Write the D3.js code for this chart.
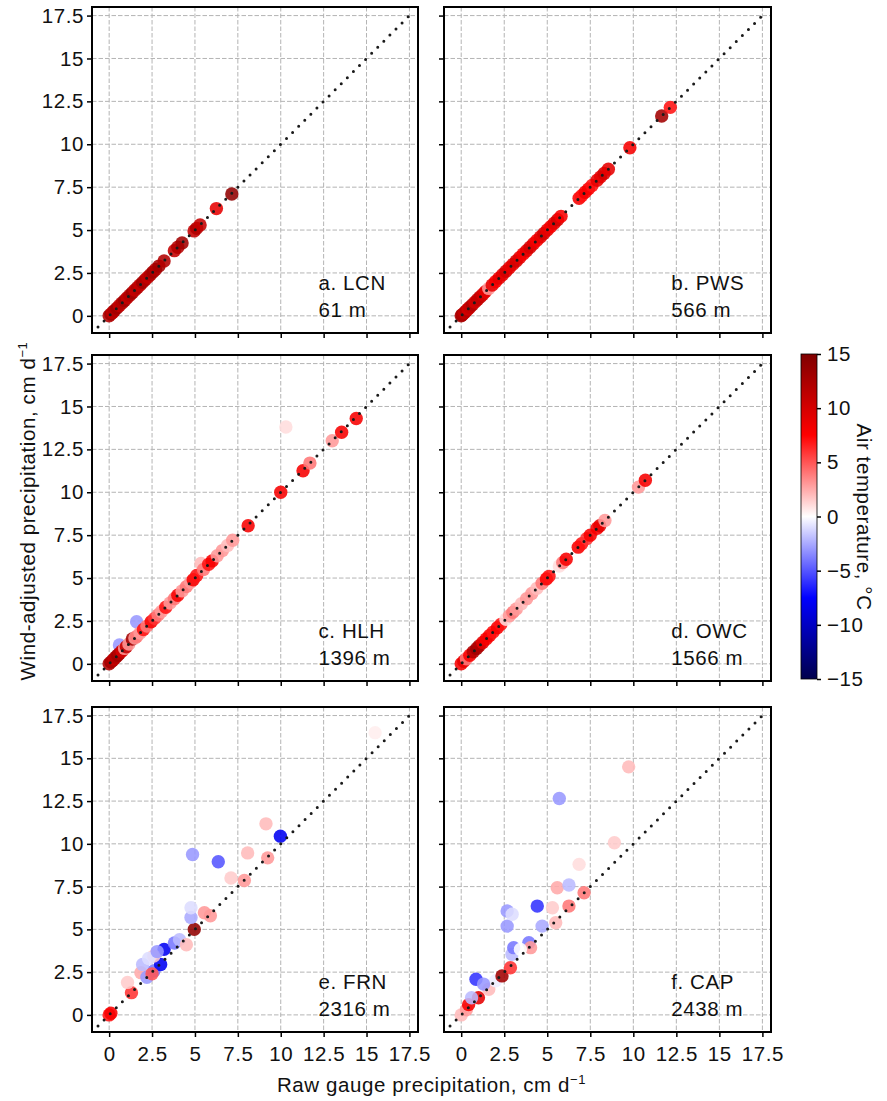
<!DOCTYPE html>
<html><head><meta charset="utf-8">
<script src="https://cdn.jsdelivr.net/npm/d3@7"></script>
<style>body{margin:0;background:#fff} text{font-family:"Liberation Sans",Arial,sans-serif;fill:#111;letter-spacing:0.6px}</style>
</head><body><svg id="c" width="887" height="1101"></svg>
<script>
// ---------- data ----------
const axisTicks=[0,2.5,5,7.5,10,12.5,15,17.5];
const cbarTicks=[-15,-10,-5,0,5,10,15];
const stations=["a. LCN","b. PWS","c. HLH","d. OWC","e. FRN","f. CAP"];
const elevations=["61 m","566 m","1396 m","1566 m","2316 m","2438 m"];

const lcnRaw=[0,0.1,0.2,0.3,0.45,0.6,0.75,0.9,1.05,1.2,1.35,1.5,1.65,1.8,1.95,2.1,2.25,2.4,2.55,2.7,2.9,3.2,3.8,4.0,4.25,4.95,5.1,5.3,6.25,7.15];
const lcnAdj=[0,0.1,0.2,0.3,0.45,0.6,0.75,0.9,1.05,1.2,1.35,1.5,1.65,1.8,1.95,2.1,2.25,2.4,2.55,2.7,2.9,3.2,3.8,4.0,4.25,4.95,5.1,5.3,6.25,7.1];
const lcnTemp=[12,13,11,12,13,11,12,13,11,12,13,11,12,11,13,12,11,12,13,12,13,12,11,12,13,11,12,11,9,14];

const pwsRaw=[0,0.05,0.1,0.2,0.3,0.4,0.5,0.65,0.8,0.95,1.1,1.25,1.4,1.6,1.8,2.0,2.2,2.4,2.6,2.8,3.0,3.2,3.4,3.6,3.8,4.0,4.2,4.4,4.6,4.8,5.0,5.2,5.4,5.6,5.8,6.85,7.0,7.2,7.4,7.6,7.9,8.1,8.3,8.55,9.8,11.65,12.15];
const pwsAdj=[0,0.05,0.1,0.2,0.3,0.4,0.5,0.65,0.8,0.95,1.1,1.25,1.4,1.6,1.8,2.0,2.2,2.4,2.6,2.8,3.0,3.2,3.4,3.6,3.8,4.0,4.2,4.4,4.6,4.8,5.0,5.2,5.4,5.6,5.8,6.85,7.0,7.2,7.4,7.6,7.9,8.1,8.3,8.55,9.8,11.65,12.15];
const pwsTemp=[12,13,12,11,12,10,11,12,10,11,11,10,9,3,9,8,9,9,10,9,9,10,9,8,9,10,9,8,9,10,9,8,9,10,8,8,7,8,8,7,9,9,10,9,8,13,7];

const hlhRaw=[0.6,1.6,0,0.1,0.2,0.3,0.4,0.5,0.6,0.75,0.9,1.0,1.15,1.35,1.5,1.6,1.8,2.0,2.2,2.45,2.65,2.85,3.05,3.3,3.55,3.8,4.0,4.25,4.5,4.75,4.9,5.1,5.35,5.5,5.8,6.0,6.3,6.6,6.9,7.2,8.1,10.0,11.3,11.7,13.0,13.55,14.4,10.3];
const hlhAdj=[1.1,2.45,0,0.1,0.2,0.3,0.4,0.5,0.6,0.75,0.9,1.0,1.15,1.45,1.5,1.6,1.8,2.0,2.2,2.45,2.65,2.85,3.05,3.3,3.55,3.8,4.0,4.25,4.5,4.75,4.9,5.15,5.85,5.5,5.8,6.0,6.3,6.6,6.9,7.2,8.05,10.0,11.25,11.7,13.0,13.5,14.3,13.8];
const hlhTemp=[-3,-3,12,13,12,11,12,13,12,10,3,11,3,13,3,4,3,7,4,8,6,4,3,7,3,4,8,3,4,3,8,7,2,4,7,8,3,3,2,3,8,8,8,4,3,8,8,1];

const owcRaw=[0,0.15,0.3,0.5,0.7,0.9,1.05,1.25,1.45,1.65,1.85,2.1,2.3,2.6,2.8,3.0,3.2,3.5,3.8,4.1,4.4,4.7,4.95,5.1,5.7,5.9,6.1,6.8,7.0,7.3,7.5,7.9,8.05,8.35,10.3,10.7];
const owcAdj=[0,0.15,0.3,0.5,0.7,0.9,1.05,1.25,1.45,1.65,1.85,2.1,2.3,2.6,2.8,3.0,3.2,3.5,3.8,4.1,4.4,4.7,4.95,5.1,5.7,5.9,6.1,6.8,7.0,7.3,7.5,7.9,8.05,8.35,10.3,10.7];
const owcTemp=[8,9,4,8,12,13,12,9,8,8,7,8,7,1,3,4,3,2,3,3,2,4,8,7,1,4,8,8,7,6,8,8,9,3,3,8];

const frnRaw=[0,0.1,1.3,1.07,1.85,2.6,3.0,3.2,1.95,2.6,2.3,3.8,4.1,4.5,4.96,4.77,4.77,5.55,5.9,4.86,6.36,7.1,7.88,8.07,9.24,9.14,9.98,15.5,2.2,2.5,2.8];
const frnAdj=[0,0.1,1.3,1.9,2.47,2.57,2.95,3.83,2.95,3.44,3.3,4.2,4.4,4.1,5.0,5.7,6.26,5.97,5.8,9.38,8.95,8.0,7.86,9.47,9.18,11.17,10.45,16.5,2.2,2.4,3.7];
const frnTemp=[7,8,6,1.5,2.5,-4,-8,-8,-2,1.5,-1,-4,-2,2,14,-2.5,-1,3,3,-3,-5,1.5,3,2,3,2,-8,0.5,-3,5,-3];

const capRaw=[0,0.3,0.43,1.0,0.86,1.6,2.0,2.37,2.86,2.95,3.05,3.93,4.03,3.44,2.67,2.67,2.96,4.42,4.7,5.49,5.3,6.26,7.14,5.58,6.26,6.85,8.9,5.7,9.73,1.3,0.6];
const capAdj=[0,0.3,0.6,1.0,2.08,1.5,2.0,2.28,2.76,3.54,3.93,4.22,3.93,3.83,5.19,6.07,5.88,6.36,5.19,5.39,6.26,6.36,7.14,7.43,7.59,8.8,10.06,12.65,14.5,1.8,1.0];
const capTemp=[2,3,8,9,-6,2,-0.5,13,6,-2,-4,-4,3,0,-3,-3,-1,-6,-2.5,2,1.5,4,4,2.5,-2,1,1.5,-3,2,-3,-2];

// ---------- drawing ----------
const series=[[lcnRaw,lcnAdj,lcnTemp],[pwsRaw,pwsAdj,pwsTemp],[hlhRaw,hlhAdj,hlhTemp],
              [owcRaw,owcAdj,owcTemp],[frnRaw,frnAdj,frnTemp],[capRaw,capAdj,capTemp]];
const svg=d3.select("#c");
const cols=[[92,418],[444,771]], rows=[[7,333],[355,681],[707,1032]];
const dom=[-1,18];
const color=d3.scaleLinear().domain([-15,-7.5,0,7.5,15])
  .range(["#00004c","#0000ff","#ffffff","#ff0000","#800000"]);
const FS=20.5;
const FF="Liberation Sans, Arial, sans-serif";

series.forEach((s,i)=>{
  const c=i%2, r=Math.floor(i/2);
  const x=d3.scaleLinear().domain(dom).range(cols[c]);
  const y=d3.scaleLinear().domain(dom).range([rows[r][1],rows[r][0]]);
  const g=svg.append("g");
  g.append("clipPath").attr("id","clip"+i).append("rect")
    .attr("x",cols[c][0]).attr("y",rows[r][0])
    .attr("width",cols[c][1]-cols[c][0]).attr("height",rows[r][1]-rows[r][0]);
  const grid=g.append("g").attr("stroke","#b4b4b4").attr("stroke-width",1).attr("stroke-dasharray","4.5,2");
  grid.selectAll(".gx").data(axisTicks).join("line")
    .attr("x1",d=>x(d)).attr("x2",d=>x(d)).attr("y1",rows[r][0]).attr("y2",rows[r][1]);
  grid.selectAll(".gy").data(axisTicks).join("line").attr("class","gy")
    .attr("y1",d=>y(d)).attr("y2",d=>y(d)).attr("x1",cols[c][0]).attr("x2",cols[c][1]);
  const pts=s[0].map((v,k)=>({raw:v,adj:s[1][k],t:s[2][k]}));
  g.append("g").attr("clip-path",`url(#clip${i})`).selectAll("circle").data(pts).join("circle")
    .attr("cx",d=>x(d.raw)).attr("cy",d=>y(d.adj)).attr("r",6.7)
    .attr("fill",d=>color(d.t)).attr("fill-opacity",0.88);
  g.append("line").attr("x1",x(-0.65)).attr("y1",y(-0.65)).attr("x2",x(17.7)).attr("y2",y(17.7))
    .attr("stroke","#1a1a1a").attr("stroke-width",3).attr("stroke-dasharray","0,8.6").attr("stroke-linecap","round");
  g.append("rect").attr("x",cols[c][0]).attr("y",rows[r][0])
    .attr("width",cols[c][1]-cols[c][0]).attr("height",rows[r][1]-rows[r][0])
    .attr("fill","none").attr("stroke","#000").attr("stroke-width",2);
  const ya=g.append("g").attr("transform",`translate(${cols[c][0]},0)`)
    .call(d3.axisLeft(y).tickValues(axisTicks).tickSize(5).tickPadding(3)
      .tickFormat(c===0?(d=>String(d)):(()=>"")));
  const xa=g.append("g").attr("transform",`translate(0,${rows[r][1]})`)
    .call(d3.axisBottom(x).tickValues(axisTicks).tickSize(5).tickPadding(9)
      .tickFormat(r===2?(d=>String(d)):(()=>"")));
  [ya,xa].forEach(a=>{
    a.select(".domain").remove();
    a.selectAll(".tick line").attr("stroke","#000").attr("stroke-width",1.5);
    a.selectAll(".tick text").attr("font-size",FS).attr("font-family",FF).attr("fill","#111");
  });
  const lx=x(12.2);
  g.append("text").attr("x",lx).attr("y",rows[r][1]-43).attr("font-size",FS).text(stations[i]);
  g.append("text").attr("x",lx).attr("y",rows[r][1]-16).attr("font-size",FS).text(elevations[i]);
});

// axis titles
const xt=svg.append("text").attr("x",(cols[0][0]+cols[1][1])/2).attr("y",1092)
  .attr("text-anchor","middle").attr("font-size",FS).text("Raw gauge precipitation, cm d");
xt.append("tspan").attr("dy",-8).attr("font-size",13).text("\u22121");
const yt=svg.append("text").attr("transform","translate(35,511) rotate(-90)")
  .attr("text-anchor","middle").attr("font-size",FS).text("Wind-adjusted precipitation, cm d");
yt.append("tspan").attr("dy",-8).attr("font-size",13).text("\u22121");

// colorbar
const cb={x:801,w:16,top:354,bot:679};
const cs=d3.scaleLinear().domain([-15,15]).range([cb.bot,cb.top]);
const grad=svg.append("defs").append("linearGradient").attr("id","cbg")
  .attr("x1",0).attr("y1",1).attr("x2",0).attr("y2",0);
color.domain().forEach(v=>grad.append("stop").attr("offset",(v+15)/30).attr("stop-color",color(v)));
svg.append("rect").attr("x",cb.x).attr("y",cb.top).attr("width",cb.w).attr("height",cb.bot-cb.top)
  .attr("fill","url(#cbg)").attr("stroke","#000").attr("stroke-width",0.8);
const ca=svg.append("g").attr("transform",`translate(${cb.x+cb.w},0)`)
  .call(d3.axisRight(cs).tickValues(cbarTicks).tickSize(4).tickPadding(6)
    .tickFormat(d=>d<0?"\u2212"+Math.abs(d):String(d)));
ca.select(".domain").remove();
ca.selectAll(".tick line").attr("stroke","#000").attr("stroke-width",1.5);
ca.selectAll(".tick text").attr("font-size",FS).attr("font-family",FF).attr("fill","#111");
svg.append("text").attr("transform","translate(857,517) rotate(90)")
  .attr("text-anchor","middle").attr("font-size",FS).text("Air temperature, \u00b0C");
</script></body></html>
